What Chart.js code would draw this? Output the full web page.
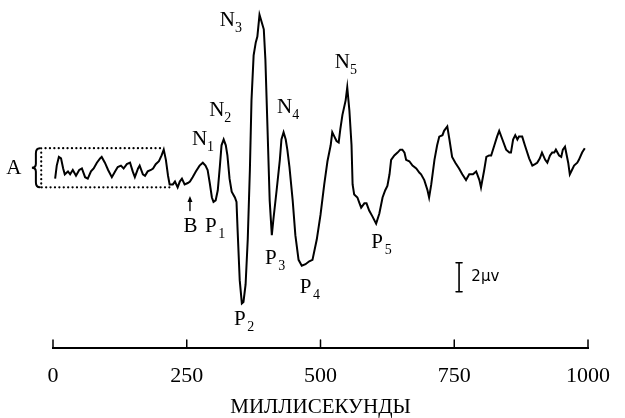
<!DOCTYPE html>
<html>
<head>
<meta charset="utf-8">
<script src="https://cdn.jsdelivr.net/npm/chart.js@4.4.1/dist/chart.umd.min.js"></script>
<style>
  html, body { margin: 0; padding: 0; background: #fff; }
  #wrap { width: 625px; height: 418px; }
</style>
</head>
<body>
<div id="wrap"><canvas id="erp-chart" width="625" height="418"></canvas></div>
<script>
// time after stimulus, ms
const timeMs = [4,7,11,15,19,22,28,32,37,43,49,54,60,65,71,76,82,88,91,97,103,110,116,121,127,132,138,144,149,153,
  159,162,168,172,177,183,187,192,198,203,207,211,215,218,224,228,233,237,241,246,252,256,261,267,274,280,285,289,293,297,
  300,304,308,312,315,319,323,326,330,334,340,343,345,349,353,356,360,364,368,371,375,379,382,386,390,394,397,401,405,409,
  412,418,424,427,431,435,438,442,448,453,459,465,472,479,485,493,500,507,513,519,522,526,530,534,537,541,547,550,554,558,
  560,563,569,573,576,582,586,591,597,604,610,616,621,625,629,632,638,644,649,653,657,660,666,672,679,685,688,694,700,703,
  707,713,718,722,728,731,737,741,746,752,759,765,772,778,785,791,797,800,806,810,815,819,825,830,834,840,847,853,856,860,
  864,868,871,877,882,890,896,901,905,910,914,920,924,929,933,937,940,946,950,953,957,963,966,970,974,980,983,989,994];

// amplitude, microvolts (up = drawn upward)
const amplitude = [-0.6,0.3,0.9,0.8,0.1,-0.3,-0.1,-0.3,0,-0.4,0,0.1,-0.5,-0.6,-0.1,0.1,0.5,0.8,0.9,0.5,0,-0.5,-0.1,0.2,0.3,0.1,0.4,0.5,-0.1,-0.5,
  0.1,0.3,-0.3,-0.4,-0.1,0,0.1,0.4,0.6,1.0,1.4,0.7,-0.4,-1.0,-1.0,-0.8,-1.2,-0.8,-0.6,-1.0,-0.9,-0.8,-0.5,-0.1,0.3,0.5,0.3,0,-0.9,-1.9,
  -2.2,-2.1,-1.4,0.3,1.7,2.1,1.7,1.0,-0.6,-1.5,-1.9,-2.2,-4.1,-7.6,-9.2,-9.1,-7.9,-4.8,0,4.8,7.9,8.8,9.2,10.7,10.2,9.7,7.6,2.8,-2.1,-4.5,
  -3.4,-1.4,0.7,2.1,2.6,2.1,1.4,0.2,-2.1,-4.5,-6.2,-6.6,-6.5,-6.3,-6.2,-4.8,-3.1,-1.0,0.6,1.7,2.6,2.3,2.0,1.9,2.8,3.8,4.8,5.7,4.1,1.7,
  -1.0,-1.7,-1.9,-2.3,-2.6,-2.3,-2.3,-2.8,-3.2,-3.7,-3.0,-1.9,-1.4,-1.1,-0.3,0.7,1.0,1.2,1.4,1.4,1.2,0.7,0.6,0.3,0.1,-0.2,-0.3,-0.7,-1.4,-1.9,
  -1.0,0.7,1.7,2.3,2.4,2.7,3.0,2.1,0.9,0.5,0.1,-0.3,-0.7,-0.3,-0.3,-0.1,-0.7,-1.2,0,0.9,1.0,1.0,1.7,2.3,2.7,2.1,1.4,1.2,1.2,2.1,
  2.4,2.1,2.3,2.3,1.7,0.8,0.3,0.4,0.5,0.8,1.2,0.7,0.5,1.0,1.2,1.2,1.4,1.0,0.9,1.4,1.6,0.5,-0.3,0,0.3,0.5,0.7,1.2,1.5];

const xTicks = [0, 250, 500, 750, 1000];
const xTitle = 'МИЛЛИСЕКУНДЫ';

// component labels: [letter, subscript, ms, uV]
const peakLabels = [
  ['N', '1', 274, 2.1], ['N', '2', 306, 4.1], ['N', '3', 326, 10.3], ['N', '4', 433, 4.3], ['N', '5', 541, 7.4],
  ['P', '1', 295, -3.9], ['P', '2', 349, -10.3], ['P', '3', 407, -6.1], ['P', '4', 472, -8.1], ['P', '5', 606, -5.0],
  ['B', '', 257, -3.9], ['A', '', -73, 0.1]
];
// baseline window A (ms / uV)
const windowA = { left: -22, topRight: 200, bottomRight: 222, top: 1.5, bottom: -1.2, braceMs: -32 };
const markerB = { ms: 256, from: -2.8, to: -1.8 };
const scaleBar = { ms: 759, top: -6.4, size: 2, text: '2μv', textMs: 782 };

const serif = '"Liberation Serif", "Times New Roman", serif';

const annotations = {
  id: 'annotations',
  afterDraw(chart) {
    const { ctx } = chart;
    const xs = chart.scales.x, ys = chart.scales.y;
    const px = v => xs.getPixelForValue(v);
    const py = v => ys.getPixelForValue(v);
    ctx.save();
    ctx.fillStyle = '#000';
    ctx.strokeStyle = '#000';

    // peak labels
    ctx.textAlign = 'center';
    ctx.textBaseline = 'middle';
    peakLabels.forEach(([main, sub, ms, uv]) => {
      const x = px(ms), y = py(uv);
      ctx.font = '21px ' + serif;
      ctx.fillText(main, x, y);
      if (sub) {
        ctx.font = '14px ' + serif;
        ctx.fillText(sub, x + 11, y + 8);
      }
    });

    // dotted window
    ctx.lineWidth = 2.2;
    ctx.lineCap = 'round';
    ctx.setLineDash([0.1, 4.3]);
    ctx.beginPath();
    ctx.moveTo(px(windowA.topRight), py(windowA.top));
    ctx.lineTo(px(windowA.left), py(windowA.top));
    ctx.lineTo(px(windowA.left), py(windowA.bottom));
    ctx.lineTo(px(windowA.bottomRight), py(windowA.bottom));
    ctx.stroke();
    ctx.setLineDash([]);

    // brace
    const bx = px(windowA.braceMs), bt = py(windowA.top), bb = py(windowA.bottom);
    const bm = (bt + bb) / 2;
    ctx.lineWidth = 2;
    ctx.beginPath();
    ctx.moveTo(bx + 4, bt);
    ctx.quadraticCurveTo(bx, bt, bx, bt + 5);
    ctx.lineTo(bx, bm - 4);
    ctx.quadraticCurveTo(bx, bm, bx - 4, bm);
    ctx.quadraticCurveTo(bx, bm, bx, bm + 4);
    ctx.lineTo(bx, bb - 5);
    ctx.quadraticCurveTo(bx, bb, bx + 4, bb);
    ctx.stroke();

    // arrow at B
    const ax = px(markerB.ms), ay0 = py(markerB.from), ay1 = py(markerB.to);
    ctx.lineWidth = 1.4;
    ctx.beginPath();
    ctx.moveTo(ax, ay0);
    ctx.lineTo(ax, ay1 + 3);
    ctx.stroke();
    ctx.beginPath();
    ctx.moveTo(ax, ay1);
    ctx.lineTo(ax - 2.5, ay1 + 6);
    ctx.lineTo(ax + 2.5, ay1 + 6);
    ctx.closePath();
    ctx.fill();

    // 2 uV calibration bar
    const sx = px(scaleBar.ms), st = py(scaleBar.top), sb = py(scaleBar.top - scaleBar.size);
    ctx.lineWidth = 1.6;
    ctx.beginPath();
    ctx.moveTo(sx, st); ctx.lineTo(sx, sb);
    ctx.moveTo(sx - 3, st); ctx.lineTo(sx + 3, st);
    ctx.moveTo(sx - 3, sb); ctx.lineTo(sx + 3, sb);
    ctx.stroke();
    ctx.font = '15px "DejaVu Sans", sans-serif';
    ctx.textAlign = 'left';
    ctx.fillText(scaleBar.text, px(scaleBar.textMs), (st + sb) / 2);

    // tick marks pointing up from the axis
    ctx.lineWidth = 1.5;
    ctx.beginPath();
    xTicks.forEach(t => {
      const x = px(t);
      ctx.moveTo(x, xs.top);
      ctx.lineTo(x, xs.top - 8);
    });
    ctx.stroke();
    ctx.restore();
  }
};

const ctx = document.getElementById('erp-chart').getContext('2d');
new Chart(ctx, {
  type: 'line',
  data: {
    datasets: [{
      data: timeMs.map((t, i) => ({ x: t, y: amplitude[i] })),
      borderColor: '#000',
      borderWidth: 2,
      pointRadius: 0,
      tension: 0,
      fill: false
    }]
  },
  options: {
    responsive: false,
    animation: false,
    devicePixelRatio: 1,
    layout: { padding: { left: 53, right: 36, top: 8, bottom: 0 } },
    plugins: {
      legend: { display: false },
      tooltip: { enabled: false }
    },
    scales: {
      x: {
        type: 'linear',
        min: 0,
        max: 1000,
        afterFit: (scale) => { scale.height = 70; },
        afterBuildTicks: (scale) => { scale.ticks = xTicks.map(v => ({ value: v })); },
        grid: { display: false, drawTicks: false },
        border: { display: true, color: '#000', width: 2 },
        ticks: {
          color: '#000',
          padding: 15,
          maxRotation: 0,
          autoSkip: false,
          font: { family: serif, size: 22 },
          callback: (value) => String(value)
        },
        title: {
          display: true,
          text: xTitle,
          color: '#000',
          font: { family: serif, size: 21, lineHeight: 1 },
          padding: { top: 0, bottom: 0 }
        }
      },
      y: {
        display: false,
        min: -12.28,
        max: 11.17
      }
    }
  },
  plugins: [annotations]
});
</script>
</body>
</html>
